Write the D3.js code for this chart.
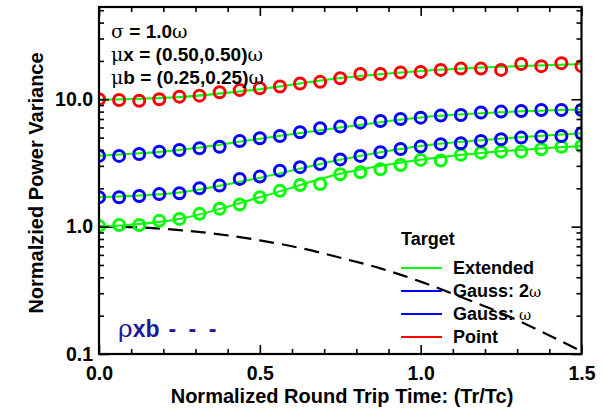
<!DOCTYPE html>
<html><head><meta charset="utf-8">
<script src="https://cdn.jsdelivr.net/npm/d3@7"></script>
<style>body{margin:0;background:#fff}svg{display:block}text{font-family:"Liberation Sans",Arial,sans-serif;font-weight:bold}</style>
</head><body>
<script>
// ---- data ----
const tripTime = [0,0.0625,0.125,0.1875,0.25,0.3125,0.375,0.4375,0.5,0.5625,0.625,0.6875,0.75,0.8125,0.875,0.9375,1.0,1.0625,1.125,1.1875,1.25,1.3125,1.375,1.4375,1.5];
const pointVals   = [10.0,9.87,9.74,10.0,10.48,10.67,11.36,11.8,12.2,12.6,13.3,13.7,14.6,15.8,15.8,16.2,16.4,17.0,17.4,17.4,17.0,18.9,18.2,19.2,18.2];
const gauss1Vals  = [3.59,3.59,3.72,3.88,4.0,4.12,4.24,4.7,4.94,5.15,5.5,5.92,6.1,6.55,6.75,7.0,7.17,7.44,7.53,7.86,8.0,8.08,8.24,8.24,8.24];
const gauss2Vals  = [1.70,1.70,1.74,1.80,1.83,2.0,2.10,2.37,2.47,2.75,2.93,3.10,3.37,3.59,3.84,4.07,4.25,4.44,4.52,4.71,4.85,5.0,5.09,5.15,5.41];
const extendedVals= [1.01,1.03,1.03,1.11,1.15,1.26,1.38,1.49,1.70,1.91,2.12,2.16,2.58,2.67,2.82,3.05,3.34,3.30,3.66,3.81,3.88,3.88,4.05,4.24,4.30];
// smooth fitted curves (green) read at coarse points
const fitTime = [0,0.25,0.5,0.75,1.0,1.25,1.5];
const pointFit    = [9.9,10.4,12.0,14.7,16.7,18.0,18.9];
const gauss1Fit   = [3.6,4.0,4.9,6.0,7.2,7.9,8.3];
const gauss2Fit   = [1.70,1.85,2.42,3.35,4.3,4.9,5.4];
const extendedFit = [1.0,1.15,1.7,2.6,3.35,3.9,4.3];
// rho_xb dashed curve
const rhoTime = [0,0.125,0.25,0.375,0.5,0.625,0.75,0.875,1.0,1.125,1.25,1.375,1.5];
const rhoVals = [1.0,0.985,0.94,0.87,0.78,0.68,0.57,0.47,0.37,0.28,0.21,0.15,0.105];
const xMajor = [0,0.5,1.0,1.5];
const xMajorLabels = ["0.0","0.5","1.0","1.5"];
const xMinor = [0.1,0.2,0.3,0.4,0.6,0.7,0.8,0.9,1.1,1.2,1.3,1.4];
const yMajor = [0.1,1,10];
const yMajorLabels = ["0.1","1.0","10.0"];
const yMinor = [0.2,0.3,0.4,0.5,0.6,0.7,0.8,0.9,2,3,4,5,6,7,8,9,20,30,40,50];
const legendLabels = ["Extended","Gauss: 2","Gauss: ","Point"];
const legendSuffix = ["","ω","ω",""];
const legendColors = ["#00ff00","#0000ff","#0000ff","#ff0000"];

const W=604,H=408, L=99, T=7, R=581.5, B=354;
const svg=d3.select("body").append("svg").attr("width",W).attr("height",H);
const x=d3.scaleLinear().domain([0,1.5]).range([L,R]);
const y=d3.scaleLog().domain([0.1,53]).range([B,T]);

svg.append("clipPath").attr("id","clip").append("rect").attr("x",L).attr("y",T).attr("width",R-L).attr("height",B-T);
const plot=svg.append("g").attr("clip-path","url(#clip)");

const line=(xs,ys,curve)=>d3.line().x((d,i)=>x(xs[i])).y(d=>y(d)).curve(curve)(ys);

// dashed rho line
plot.append("path").attr("d",line(rhoTime,rhoVals,d3.curveMonotoneX)).attr("fill","none")
  .attr("stroke","#000").attr("stroke-width",2.2).attr("stroke-dasharray","15,8");

const series=[[extendedFit,extendedVals,"#00ff00"],[gauss2Fit,gauss2Vals,"#0000ff"],[gauss1Fit,gauss1Vals,"#0000ff"],[pointFit,pointVals,"#ff0000"]];
series.forEach(([fit,vals,col])=>{
  plot.append("path").attr("d",line(fitTime,fit,d3.curveMonotoneX)).attr("fill","none").attr("stroke","#00ff00").attr("stroke-width",2);
});
series.forEach(([fit,vals,col])=>{
  plot.selectAll(null).data(vals).enter().append("circle")
    .attr("cx",(d,i)=>x(tripTime[i])).attr("cy",d=>y(d)).attr("r",5.5)
    .attr("fill","none").attr("stroke",col).attr("stroke-width",3);
});

// axes
const fs=19.5;
function ax(gen,tr){return svg.append("g").attr("transform",tr).call(gen).call(g=>g.select(".domain").remove()).call(g=>g.selectAll("line").attr("stroke","#000").attr("stroke-width",1.6));}
ax(d3.axisBottom(x).tickValues(xMinor).tickSize(-5).tickFormat(""),`translate(0,${B})`);
ax(d3.axisTop(x).tickValues(xMinor).tickSize(-5).tickFormat(""),`translate(0,${T})`);
ax(d3.axisTop(x).tickValues(xMajor).tickSize(-9).tickFormat(""),`translate(0,${T})`);
const xb=ax(d3.axisBottom(x).tickValues(xMajor).tickSize(-9).tickPadding(12).tickFormat((d,i)=>xMajorLabels[i]),`translate(0,${B})`);
xb.selectAll("text").attr("font-size",fs).attr("fill","#000").attr("font-weight","bold");
ax(d3.axisLeft(y).tickValues(yMinor).tickSize(-5).tickFormat(""),`translate(${L},0)`);
ax(d3.axisRight(y).tickValues(yMinor).tickSize(-5).tickFormat(""),`translate(${R},0)`);
ax(d3.axisRight(y).tickValues(yMajor).tickSize(-10).tickFormat(""),`translate(${R},0)`);
const yl=ax(d3.axisLeft(y).tickValues(yMajor).tickSize(-10).tickPadding(6).tickFormat((d,i)=>yMajorLabels[i]),`translate(${L},0)`);
yl.selectAll("text").attr("font-size",fs).attr("fill","#000").attr("font-weight","bold");

svg.append("rect").attr("x",L).attr("y",T).attr("width",R-L).attr("height",B-T).attr("fill","none").attr("stroke","#000").attr("stroke-width",2.2);

// axis titles
svg.append("text").attr("x",342).attr("y",403).attr("text-anchor","middle").attr("font-size",20).text("Normalized Round Trip Time: (Tr/Tc)");
svg.append("text").attr("transform","translate(43,183) rotate(-90)").attr("text-anchor","middle").attr("font-size",20).text("Normalzied Power Variance");

// annotations
const greek='font-family:"DejaVu Serif",serif;font-weight:normal';
function ann(yy,parts){const t=svg.append("text").attr("x",111).attr("y",yy).attr("font-size",19);
  parts.forEach(([s,g])=>{const ts=t.append("tspan").text(s); if(g) ts.attr("style",greek);});}
ann(38,[["σ",1],[" = 1.0"],["ω",1]]);
ann(61,[["μ",1],["x = (0.50,0.50)"],["ω",1]]);
ann(84,[["μ",1],["b = (0.25,0.25)"],["ω",1]]);

// rho label
const rt=svg.append("text").attr("x",118).attr("y",337).attr("font-size",23).attr("fill","#1a1a9e");
rt.append("tspan").attr("style",greek).attr("font-size",25).text("ρ");
rt.append("tspan").text("xb");
rt.append("tspan").attr("dx",9).attr("letter-spacing",3).text("- - -");

// legend
svg.append("text").attr("x",401).attr("y",245).attr("font-size",18).text("Target");
legendLabels.forEach((lab,i)=>{
  const yy=268+i*23;
  svg.append("line").attr("x1",401).attr("x2",442).attr("y1",yy).attr("y2",yy).attr("stroke",legendColors[i]).attr("stroke-width",2);
  const t=svg.append("text").attr("x",453).attr("y",yy+6).attr("font-size",18).text(lab);
  if(legendSuffix[i]) t.append("tspan").attr("style",greek).attr("font-size",15).text(legendSuffix[i]);
});
</script>
</body></html>
